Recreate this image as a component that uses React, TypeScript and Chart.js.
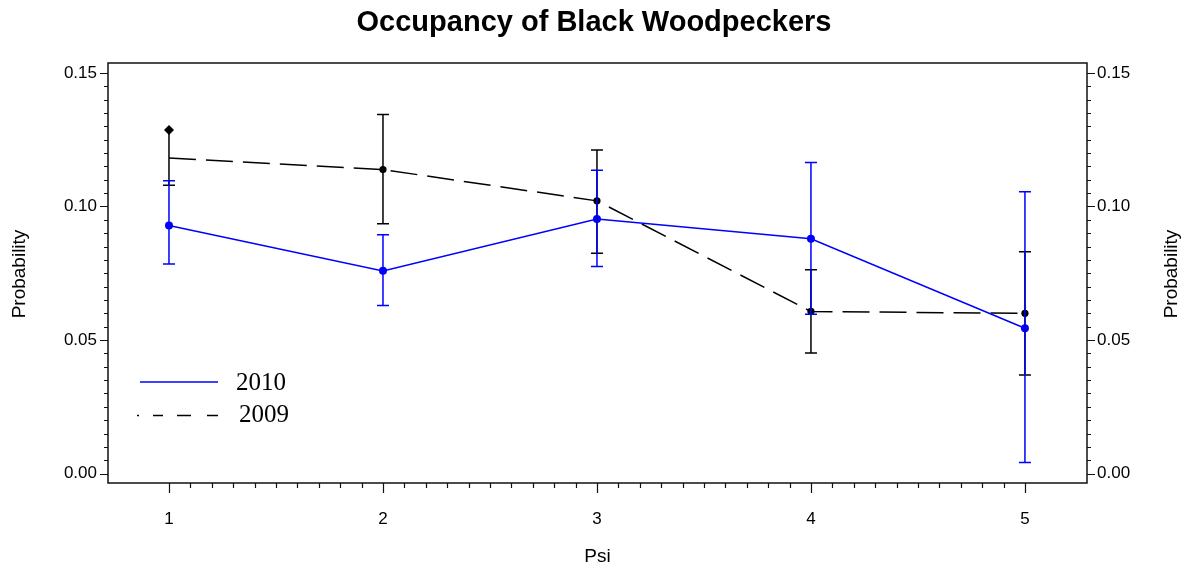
import React, { useEffect, useRef } from "react";
import { Chart, registerables } from "chart.js";

Chart.register(...registerables);

// ---- data ----
const psi = [1, 2, 3, 4, 5];
const mean2010 = [0.0929, 0.0759, 0.0953, 0.0879, 0.0544];
const lower2010 = [0.0785, 0.0629, 0.0775, 0.0597, 0.0042];
const upper2010 = [0.1096, 0.0894, 0.1136, 0.1165, 0.1055];
const mean2009 = [0.1181, 0.1138, 0.1021, 0.0607, 0.06];
const lower2009 = [0.1079, 0.0935, 0.0825, 0.0452, 0.0369];
const upper2009 = [0.1286, 0.1344, 0.1211, 0.0763, 0.0831];
const yTicks = [0, 0.05, 0.1, 0.15];
const xTicks = [1, 2, 3, 4, 5];
const yMinorStep = 0.005;
const xMinorStep = 0.1;

const TITLE = "Occupancy of Black Woodpeckers";
const X_TITLE = "Psi";
const Y_TITLE = "Probability";
const LEGEND = ["2010", "2009"];

const BLUE = "#0000ff";
const BLACK = "#000000";
const SANS = "'Liberation Sans', Arial, sans-serif";
const SERIF = "'Liberation Serif', 'Times New Roman', serif";

const errorBarsPlugin = {
  id: "errorBars",
  afterDatasetsDraw(chart: any) {
    const { ctx, scales } = chart;
    const xs = scales.x;
    const ys = scales.y;
    const draw = (lo: number[], hi: number[], color: string, topMarker: boolean) => {
      ctx.save();
      ctx.strokeStyle = color;
      ctx.lineWidth = 1.5;
      psi.forEach((p, i) => {
        const px = xs.getPixelForValue(p);
        const y1 = ys.getPixelForValue(lo[i]);
        const y2 = ys.getPixelForValue(hi[i]);
        ctx.beginPath();
        ctx.moveTo(px, y1);
        ctx.lineTo(px, y2);
        ctx.moveTo(px - 6, y1);
        ctx.lineTo(px + 6, y1);
        if (!(topMarker && i === 0)) {
          ctx.moveTo(px - 6, y2);
          ctx.lineTo(px + 6, y2);
        }
        ctx.stroke();
      });
      ctx.restore();
    };
    draw(lower2009, upper2009, BLACK, true);
    draw(lower2010, upper2010, BLUE, false);
  },
};

const decorPlugin = {
  id: "decor",
  afterDraw(chart: any) {
    const { ctx, chartArea: a, scales } = chart;
    const xs = scales.x;
    const ys = scales.y;
    ctx.save();
    // frame
    ctx.strokeStyle = "#111";
    ctx.lineWidth = 1.5;
    ctx.strokeRect(a.left, a.top, a.right - a.left, a.bottom - a.top);
    // ticks
    ctx.lineWidth = 1.2;
    ctx.beginPath();
    const yMin = yTicks[0];
    const yMax = yTicks[yTicks.length - 1];
    const nY = Math.round((yMax - yMin) / yMinorStep);
    for (let i = 0; i <= nY; i++) {
      const v = yMin + i * yMinorStep;
      const py = Math.round(ys.getPixelForValue(v)) + 0.5;
      const len = i % 10 === 0 ? 8 : 4;
      ctx.moveTo(a.left - len, py);
      ctx.lineTo(a.left, py);
      ctx.moveTo(a.right, py);
      ctx.lineTo(a.right + len, py);
    }
    const xMin = xTicks[0];
    const xMax = xTicks[xTicks.length - 1];
    const nX = Math.round((xMax - xMin) / xMinorStep);
    for (let i = 0; i <= nX; i++) {
      const v = xMin + i * xMinorStep;
      const px = Math.round(xs.getPixelForValue(v)) + 0.5;
      const len = i % 10 === 0 ? 10 : 5;
      ctx.moveTo(px, a.bottom);
      ctx.lineTo(px, a.bottom + len);
    }
    ctx.stroke();

    // title
    ctx.fillStyle = "#000";
    ctx.textAlign = "center";
    ctx.textBaseline = "alphabetic";
    ctx.font = `bold 29px ${SANS}`;
    ctx.fillText(TITLE, 594, 31);

    // x title
    ctx.font = `19px ${SANS}`;
    ctx.textBaseline = "middle";
    ctx.fillText(X_TITLE, (a.left + a.right) / 2, 557);

    // y titles
    const cy = (a.top + a.bottom) / 2 + 1;
    [20, 1172].forEach((tx) => {
      ctx.save();
      ctx.translate(tx, cy);
      ctx.rotate(-Math.PI / 2);
      ctx.textAlign = "center";
      ctx.textBaseline = "middle";
      ctx.font = `19px ${SANS}`;
      ctx.fillText(Y_TITLE, 0, 0);
      ctx.restore();
    });

    // legend
    ctx.lineWidth = 1.5;
    ctx.strokeStyle = BLUE;
    ctx.beginPath();
    ctx.moveTo(140, 382);
    ctx.lineTo(218, 382);
    ctx.stroke();
    ctx.strokeStyle = BLACK;
    ctx.beginPath();
    ctx.moveTo(137, 415.5);
    ctx.lineTo(139, 415.5);
    ctx.moveTo(153, 415.5);
    ctx.lineTo(163, 415.5);
    ctx.moveTo(177, 415.5);
    ctx.lineTo(191, 415.5);
    ctx.moveTo(207, 415.5);
    ctx.lineTo(218, 415.5);
    ctx.stroke();
    ctx.fillStyle = "#000";
    ctx.textAlign = "left";
    ctx.textBaseline = "middle";
    ctx.font = `25px ${SERIF}`;
    ctx.fillText(LEGEND[0], 236, 383);
    ctx.fillText(LEGEND[1], 239, 415);
    ctx.restore();
  },
};

export default function App() {
  const ref = useRef<HTMLCanvasElement | null>(null);

  useEffect(() => {
    if (!ref.current) return;
    const tickFont = { family: SANS, size: 17 };
    const yScale = (position: string, width: number, padding: number) => ({
      type: "linear",
      position,
      min: -0.0035,
      max: 0.1537,
      afterBuildTicks: (s: any) => {
        s.ticks = yTicks.map((v) => ({ value: v }));
      },
      afterFit: (s: any) => {
        s.width = width;
      },
      grid: { display: false, drawTicks: false },
      border: { display: false },
      ticks: {
        padding,
        autoSkip: false,
        color: "#000",
        font: tickFont,
        callback: (v: any) => Number(v).toFixed(2),
      },
    });

    const chart = new Chart(ref.current, {
      type: "line",
      data: {
        datasets: [
          {
            label: LEGEND[0],
            data: psi.map((p, i) => ({ x: p, y: mean2010[i] })),
            borderColor: BLUE,
            backgroundColor: BLUE,
            borderWidth: 1.5,
            pointRadius: 4,
            pointBorderWidth: 0,
            pointBackgroundColor: BLUE,
            yAxisID: "y",
          },
          {
            label: LEGEND[1],
            data: psi.map((p, i) => ({ x: p, y: mean2009[i] })),
            borderColor: BLACK,
            backgroundColor: BLACK,
            borderWidth: 1.5,
            borderDash: [27, 10],
            pointRadius: psi.map((_, i) => (i === 0 ? 0 : 3.6)),
            pointBorderWidth: 0,
            pointBackgroundColor: BLACK,
            yAxisID: "y",
          },
          {
            label: "2009 upper marker",
            data: [{ x: psi[0], y: upper2009[0] }],
            showLine: false,
            pointStyle: "rectRot",
            pointRadius: 5,
            pointBorderWidth: 0,
            pointBackgroundColor: BLACK,
            borderColor: BLACK,
            yAxisID: "y",
          },
        ],
      },
      options: {
        animation: false,
        responsive: false,
        maintainAspectRatio: false,
        layout: { padding: { top: 63, left: 0, right: 0, bottom: 0 } },
        plugins: {
          legend: { display: false },
          title: { display: false },
          tooltip: { enabled: false },
        },
        scales: {
          x: {
            type: "linear",
            min: 0.715,
            max: 5.29,
            afterBuildTicks: (s: any) => {
              s.ticks = xTicks.map((v) => ({ value: v }));
            },
            afterFit: (s: any) => {
              s.height = 89;
            },
            grid: { display: false, drawTicks: false },
            border: { display: false },
            ticks: {
              padding: 26,
              autoSkip: false,
              maxRotation: 0,
              color: "#000",
              font: tickFont,
              callback: (v: any) => String(v),
            },
          },
          y: yScale("left", 108, 11),
          y1: yScale("right", 103, 10),
        } as any,
      },
      plugins: [errorBarsPlugin, decorPlugin],
    } as any);
    return () => chart.destroy();
  }, []);

  return (
    <div style={{ position: "absolute", left: 0, top: 0, width: 1190, height: 572, background: "#fff" }}>
      <canvas ref={ref} width={1190} height={572} style={{ display: "block" }} />
    </div>
  );
}
